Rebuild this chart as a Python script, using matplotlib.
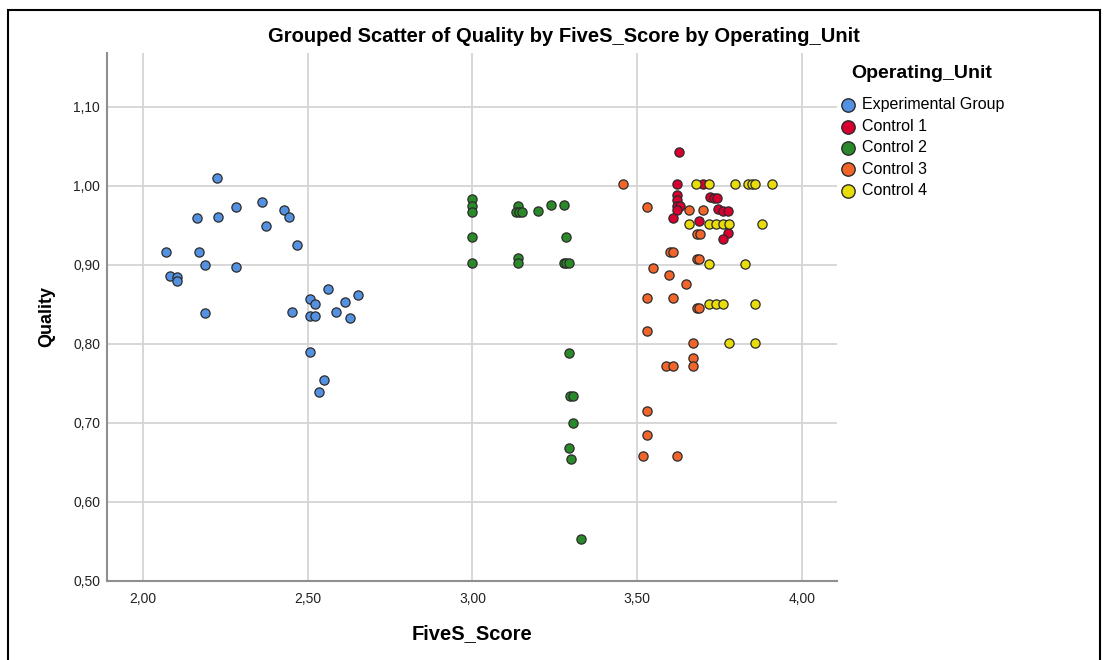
import matplotlib
matplotlib.use("Agg")
import matplotlib.pyplot as plt
from matplotlib.patches import Rectangle
from matplotlib.ticker import FuncFormatter, MultipleLocator

plt.rcParams['font.family'] = ['Liberation Sans', 'DejaVu Sans']

groups = ["Experimental Group", "Control 1", "Control 2", "Control 3", "Control 4"]
colors = ["#5591E1", "#D7002E", "#2A8A2A", "#F2652A", "#E8DC0A"]

exp_x = [2.223, 2.162, 2.228, 2.281, 2.361, 2.373, 2.427, 2.442, 2.467, 2.068,
         2.170, 2.187, 2.281, 2.081, 2.102, 2.103, 2.187, 2.560, 2.653, 2.506,
         2.522, 2.614, 2.453, 2.508, 2.523, 2.586, 2.628, 2.506, 2.548, 2.534]
exp_y = [1.010, 0.959, 0.960, 0.973, 0.979, 0.949, 0.969, 0.961, 0.925, 0.916,
         0.916, 0.900, 0.897, 0.886, 0.884, 0.880, 0.839, 0.870, 0.862, 0.857,
         0.851, 0.853, 0.840, 0.835, 0.835, 0.840, 0.833, 0.790, 0.754, 0.739]

c1_x = [3.628, 3.620, 3.701, 3.620, 3.620, 3.721, 3.732, 3.742, 3.622, 3.630,
        3.620, 3.747, 3.760, 3.777, 3.608, 3.689, 3.775, 3.760]
c1_y = [1.043, 1.002, 1.002, 0.988, 0.982, 0.986, 0.985, 0.984, 0.975, 0.974,
        0.970, 0.971, 0.968, 0.968, 0.959, 0.956, 0.940, 0.933]

c2_x = [3.000, 3.000, 3.000, 3.000, 3.000, 3.138, 3.132, 3.142, 3.150, 3.198,
        3.239, 3.279, 3.285, 3.138, 3.138, 3.278, 3.285, 3.292, 3.293, 3.296,
        3.306, 3.305, 3.293, 3.300, 3.330]
c2_y = [0.983, 0.975, 0.967, 0.935, 0.902, 0.975, 0.967, 0.967, 0.967, 0.968,
        0.976, 0.976, 0.935, 0.909, 0.902, 0.902, 0.902, 0.902, 0.788, 0.734,
        0.734, 0.700, 0.668, 0.654, 0.553]

c3_x = [3.458, 3.529, 3.659, 3.699, 3.681, 3.691, 3.600, 3.608, 3.681, 3.689,
        3.549, 3.598, 3.649, 3.529, 3.610, 3.681, 3.689, 3.529, 3.669, 3.669,
        3.669, 3.588, 3.610, 3.529, 3.529, 3.517, 3.620]
c3_y = [1.002, 0.973, 0.970, 0.970, 0.939, 0.939, 0.916, 0.916, 0.908, 0.908,
        0.896, 0.887, 0.876, 0.858, 0.858, 0.845, 0.845, 0.816, 0.801, 0.782,
        0.772, 0.772, 0.772, 0.715, 0.685, 0.658, 0.658]

c4_x = [3.679, 3.719, 3.798, 3.838, 3.848, 3.858, 3.909, 3.659, 3.719, 3.740,
        3.760, 3.780, 3.879, 3.717, 3.828, 3.719, 3.740, 3.760, 3.858, 3.778,
        3.858]
c4_y = [1.002, 1.002, 1.002, 1.002, 1.002, 1.002, 1.002, 0.952, 0.952, 0.952,
        0.952, 0.952, 0.952, 0.901, 0.901, 0.851, 0.851, 0.851, 0.851, 0.801,
        0.801]

series_x = [exp_x, c1_x, c2_x, c3_x, c4_x]
series_y = [exp_y, c1_y, c2_y, c3_y, c4_y]

W, H = 1104, 660
fig = plt.figure(figsize=(W / 100, H / 100), dpi=100)
ax = fig.add_axes([107 / W, 1 - 581 / H, (837 - 107) / W, (581 - 53) / H])

for name, col, xs, ys in zip(groups, colors, series_x, series_y):
    ax.scatter(xs, ys, s=44, color=col, edgecolors="#2b2b2b", linewidths=0.9,
               label=name, zorder=3)

ax.set_xlim(1.890, 4.107)
ax.set_ylim(0.50, 1.168)
ax.xaxis.set_major_locator(MultipleLocator(0.5))
fmt = FuncFormatter(lambda v, p: f"{v:.2f}".replace(".", ","))
ax.xaxis.set_major_formatter(fmt)
ax.yaxis.set_major_formatter(fmt)
ax.set_yticks([0.5, 0.6, 0.7, 0.8, 0.9, 1.0, 1.1])

ax.grid(True, color="#d4d4d4", linewidth=1.3, zorder=0)
ax.set_axisbelow(True)
for side in ("top", "right"):
    ax.spines[side].set_visible(False)
for side in ("left", "bottom"):
    ax.spines[side].set_color("#8f8f8f")
    ax.spines[side].set_linewidth(1.5)
ax.tick_params(length=0, labelsize=10, colors="#222222", pad=5)
ax.tick_params(axis="x", pad=8)

ax.set_xlabel("FiveS_Score", fontsize=14.5, fontweight="bold", labelpad=13)
ax.set_ylabel("Quality", fontsize=13, fontweight="bold", labelpad=13)

fig.text(564 / W, 1 - 36 / H, "Grouped Scatter of Quality by FiveS_Score by Operating_Unit",
         ha="center", va="center", fontsize=14.5, fontweight="bold")

# legend heading, then the group entries underneath it
fig.text(851 / W, 1 - 73 / H, "Operating_Unit", ha="left", va="center",
         fontsize=14, fontweight="bold")
leg = ax.legend(loc="upper left", bbox_to_anchor=(831 / W, 1 - 91 / H),
                bbox_transform=fig.transFigure, frameon=False,
                fontsize=11.5, handlelength=1.3, handletextpad=0.22, labelspacing=0.40,
                markerscale=1.45, borderaxespad=0)
for h in leg.legend_handles:
    h.set_linewidth(1.0)

fig.add_artist(Rectangle((8 / W, -0.02), (1100 - 8) / W, 1 - 10 / H + 0.02,
                         transform=fig.transFigure, fill=False,
                         edgecolor="black", linewidth=1.5))

fig.savefig("out.png", dpi=100, facecolor="white")
